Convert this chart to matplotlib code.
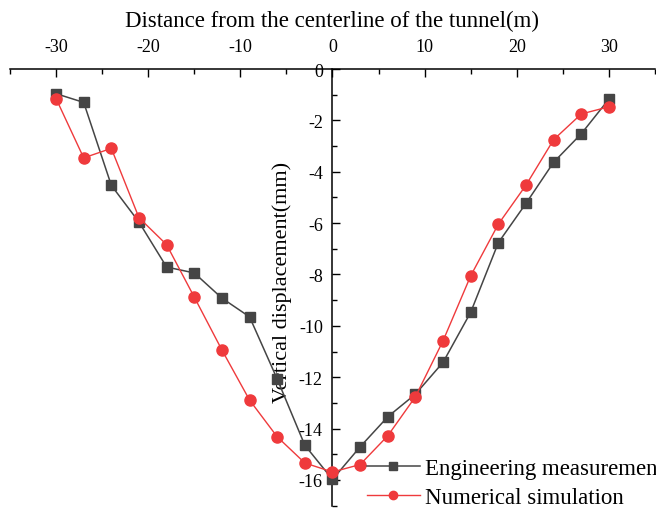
import numpy as np
import matplotlib
matplotlib.use('Agg')
import matplotlib.pyplot as plt
from matplotlib.ticker import MultipleLocator

plt.rcParams['font.family'] = ['Liberation Serif', 'DejaVu Serif']
plt.rcParams['axes.unicode_minus'] = False

# distance from centerline (m)
dist = [-30, -27, -24, -21, -18, -15, -12, -9, -6, -3, 0, 3, 6, 9, 12, 15, 18, 21, 24, 27, 30]
# vertical displacement (mm)
eng_meas = [-0.96, -1.30, -4.53, -5.96, -7.71, -7.94, -8.92, -9.65, -12.07, -14.65, -15.98,
            -14.71, -13.54, -12.66, -11.42, -9.47, -6.76, -5.23, -3.63, -2.52, -1.17]
num_sim = [-1.15, -3.46, -3.09, -5.79, -6.84, -8.88, -10.94, -12.89, -14.32, -15.34, -15.69,
           -15.40, -14.28, -12.76, -10.58, -8.05, -6.04, -4.52, -2.75, -1.75, -1.47]

gray = '#454545'
red = '#ef3a3c'

fig = plt.figure(figsize=(6.56, 5.10), dpi=100)
ax = fig.add_axes([0.0152, 0.0066, 0.9833, 0.8561])

ax.plot(dist, eng_meas, color=gray, marker='s', markersize=7, lw=1.1,
        label='Engineering measurement', zorder=3)
ax.plot(dist, num_sim, color=red, marker='o', markersize=8, lw=1.0,
        label='Numerical simulation', zorder=3)

ax.set_xlim(-35, 35)
ax.set_ylim(-17, 0)

# axes: x on top, y through the origin
ax.spines['left'].set_position(('data', 0))
ax.spines['right'].set_visible(False)
ax.spines['bottom'].set_visible(False)
for sp in ['left', 'top']:
    ax.spines[sp].set_linewidth(1.1)
ax.xaxis.tick_top()
ax.xaxis.set_label_position('top')

ax.set_xticks(np.arange(-30, 31, 10))
ax.xaxis.set_minor_locator(MultipleLocator(5))
ax.set_yticks(np.arange(-16, 1, 2))
ax.yaxis.set_minor_locator(MultipleLocator(1))
ax.tick_params(which='major', direction='in', length=6, width=1.0, labelsize=13, pad=7)
ax.tick_params(axis='x', which='major', pad=10)
ax.tick_params(which='minor', direction='in', length=3.5, width=1.0)

ax.set_xlabel('Distance from the centerline of the tunnel(m)', fontsize=16.5, labelpad=9)
ax.set_ylabel('Vertical displacement(mm)', fontsize=16, va='center')
ax.yaxis.set_label_coords(0.4225, 0.513)

leg = ax.legend(loc='center left', bbox_to_anchor=(367 / 656, 1 - 484 / 510),
                bbox_transform=fig.transFigure, frameon=False, fontsize=16.5,
                borderpad=0, borderaxespad=0, labelspacing=0.37, handlelength=2.3,
                handletextpad=0.25, markerscale=0.75)

plt.savefig('out.png', dpi=100)
